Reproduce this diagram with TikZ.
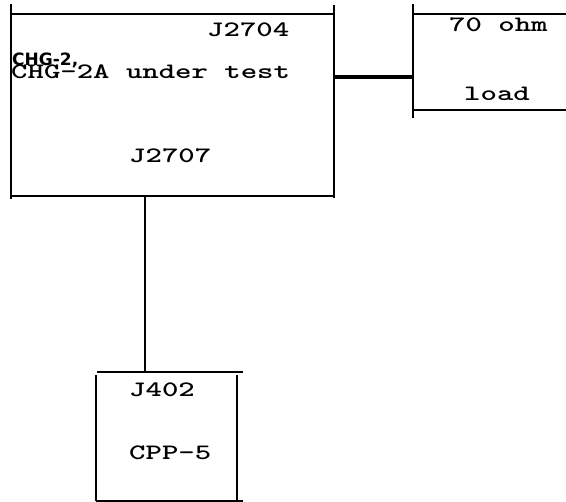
\documentclass[tikz,border=0pt]{standalone}
\usepackage{fontspec}
\usepackage{tikz}
\usetikzlibrary{positioning,calc}
\newfontfamily\typer[FakeStretch=1.42]{lmmonolt10-bold.otf}
\newfontfamily\boldlab{DejaVu Sans}
\tikzset{
  region/.style={rectangle,draw=none,inner sep=0pt},
  frame/.style={draw=black,line width=2pt},
  wire/.style={draw=black,line width=2pt},
  heavy/.style={draw=black,line width=3.2pt},
  txt/.style={anchor=base west,inner sep=0pt,font=\typer\fontsize{22}{22}\selectfont},
  headtxt/.style={anchor=base west,inner sep=0pt,font=\boldlab\bfseries\fontsize{17}{17}\selectfont},
}
\begin{document}
\begin{tikzpicture}[x=1pt,y=1pt]
\useasboundingbox (0,0) rectangle (566,502);
% boxes
\node[region,minimum width=323pt,minimum height=182pt] (chg) at (172.5,397) {};
\node[region,minimum width=153pt,minimum height=96pt,anchor=north west] (load) at (413,488) {};
\node[region,minimum width=141pt,minimum height=129pt] (cpp) at (166.5,65.5) {};
% main box
\draw[frame] ([yshift=10pt]chg.north west) -- ([yshift=-3pt]chg.south west);
\draw[frame] ([yshift=9pt]chg.north east) -- ([yshift=-2pt]chg.south east);
\draw[frame] (chg.north west) -- (chg.north east);
\draw[frame] (chg.south west) -- (chg.south east);
% load box, open to the right
\draw[frame] ([yshift=10pt]load.north west) -- ([yshift=-8pt]load.south west);
\draw[frame] (load.north west) -- (load.north east);
\draw[frame] (load.south west) -- (load.south east);
% CPP box
\draw[frame] ([xshift=1pt]cpp.north west) -- ([xshift=6pt]cpp.north east);
\draw[frame] ([yshift=-3pt]cpp.north west) -- (cpp.south west);
\draw[frame] ([yshift=-3pt]cpp.north east) -- (cpp.south east);
\draw[frame] (cpp.south west) -- ([xshift=6pt]cpp.south east);
% connectors
\coordinate (tap) at (144.5,0);
\draw[heavy] (chg.east |- 0,425) -- (load.west |- 0,425);
\draw[wire] (chg.south -| tap) -- (cpp.north -| tap);
% labels
\node[txt] (j2704) at (207,465) {J2704};
\node[headtxt] (chgname) at (12,436) {CHG-2,};
\node[txt] (chgtest) at (11,423) {CHG-2A under test};
\node[txt] (j2707) at (129,339) {J2707};
\node[txt] (ohm) at (449,470) {70 ohm};
\node[txt] (loadtxt) at (464,401) {load};
\node[txt] (j402) at (129,105) {J402};
\node[txt] (cpptxt) at (129,42) {CPP-5};
\end{tikzpicture}
\end{document}
